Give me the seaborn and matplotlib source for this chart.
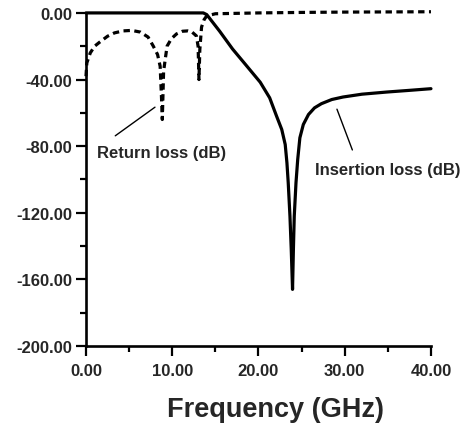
import numpy as np
import pandas as pd
import seaborn as sns
import matplotlib.pyplot as plt
from matplotlib.ticker import MultipleLocator, FormatStrFormatter

# Insertion loss (solid)
insFreq = [0, 5, 10, 13.6, 14.0, 15.5, 17.0, 18.5, 20.2, 21.3, 22.1, 22.7, 23.1,
           23.3, 23.45, 23.65, 23.8, 23.95, 24.05, 24.15, 24.35, 24.55, 24.8,
           25.2, 25.8, 26.5, 27.3, 28.5, 29.8, 32.0, 34.9, 37.5, 40.0]
insLoss = [0, 0, 0, 0, -1, -11, -21.7, -31, -41.6, -51, -62, -70, -79,
           -90, -102, -122, -142, -166, -142, -122, -102, -88, -75,
           -67, -61, -57, -54.5, -52, -50.5, -48.8, -47.5, -46.5, -45.5]

# Return loss (dashed)
retFreq = [0, 0.1, 0.5, 1.0, 1.6, 2.5, 3.3, 4.3, 5.3, 6.3, 7.2, 7.8, 8.3, 8.6,
           8.75, 8.85, 9.0, 9.4, 9.9, 10.5, 11.2, 11.8, 12.3, 12.8, 13.0, 13.1,
           13.2, 13.4, 13.7, 14.0, 15.0, 20.0, 25.0, 30.0, 35.0, 40.0]
retLoss = [-38, -30, -24, -20, -17.5, -14, -12, -10.8, -10.5, -11.5, -14.5,
           -19.9, -25, -32, -50, -64, -35, -20, -15.5, -12.6, -11, -10.8,
           -11.5, -13.8, -20, -40, -22, -8.5, -4, -1.8, -0.5, 0, 0.3, 0.5,
           0.6, 0.7]

xTicks = [0, 10, 20, 30, 40]
yTicks = [-200, -160, -120, -80, -40, 0]

insDf = pd.DataFrame({"freq": insFreq, "loss": insLoss})
retDf = pd.DataFrame({"freq": retFreq, "loss": retLoss})

sns.set_style("ticks")
plt.rcParams["font.family"] = ["Liberation Sans", "DejaVu Sans"]
plt.rcParams["font.weight"] = "bold"

fig = plt.figure(figsize=(4.64, 4.27), dpi=100)
ax = fig.add_axes([0.1853, 0.1874, 0.7435, 0.78])

sns.lineplot(data=insDf, x="freq", y="loss", color="black", linewidth=2.3,
             ax=ax, clip_on=False, estimator=None, sort=False)
sns.lineplot(data=retDf, x="freq", y="loss", color="black", linewidth=2.3,
             ax=ax, clip_on=False, estimator=None, sort=False)
ax.lines[-1].set_dashes((2.0, 1.4))

ax.set_xlim(0, 40)
ax.set_ylim(-200, 0)
ax.set_xticks(xTicks)
ax.set_yticks(yTicks)
ax.xaxis.set_minor_locator(MultipleLocator(5))
ax.yaxis.set_minor_locator(MultipleLocator(20))
ax.xaxis.set_major_formatter(FormatStrFormatter("%.2f"))
ax.yaxis.set_major_formatter(FormatStrFormatter("%.2f"))
ax.tick_params(which="major", length=7, width=1.6, labelsize=12, pad=3,
               color="black")
ax.tick_params(which="minor", length=4, width=1.6, color="black")
ax.tick_params(axis="x", which="major", pad=5)
for lbl in ax.get_xticklabels() + ax.get_yticklabels():
    lbl.set_fontweight("bold")

sns.despine(ax=ax)
for side in ["left", "bottom"]:
    ax.spines[side].set_linewidth(1.9)
    ax.spines[side].set_color("black")

ax.set_ylabel("")
ax.set_xlabel("Frequency (GHz)", fontsize=19.5, fontweight="bold")
ax.xaxis.set_label_coords(0.55, -0.15)

ax.annotate("Return loss (dB)", xy=(8.0, -56.6), xytext=(1.3, -83.7),
            fontsize=12, fontweight="bold", ha="left", va="center",
            arrowprops=dict(arrowstyle="-", color="black", lw=1.0,
                            shrinkA=0, shrinkB=0, relpos=(0.14, 1.6)))
ax.annotate("Insertion loss (dB)", xy=(29.1, -57.8), xytext=(26.5, -94),
            fontsize=12, fontweight="bold", ha="left", va="center",
            annotation_clip=False,
            arrowprops=dict(arrowstyle="-", color="black", lw=1.0,
                            shrinkA=0, shrinkB=0, relpos=(0.26, 1.8)))

plt.savefig("out.png", dpi=100)
